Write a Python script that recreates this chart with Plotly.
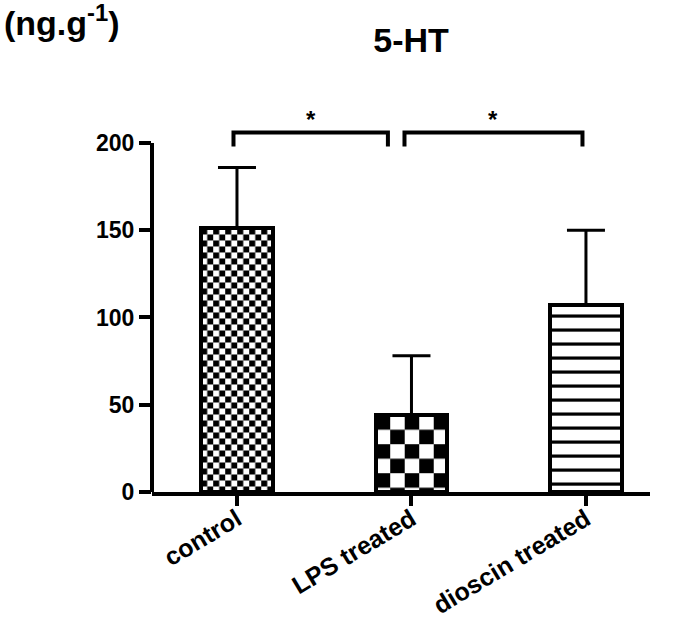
import base64
import plotly.graph_objects as go

# ---- data ----
categories = ["control", "LPS treated", "dioscin treated"]
means = [151, 44, 107]
errors = [35, 34, 43]
y_ticks = [0, 50, 100, 150, 200]
title_text = "5-HT"
y_unit = "(ng.g<sup>-1</sup>)"
sig_pairs = [(0, 1), (1, 2)]
sig_labels = ["*", "*"]

# ---- styling ----
x_pos = list(range(len(categories)))
bar_w = 0.41
y_max = 212
plot_h_px = 370
px_per_unit = plot_h_px / y_max
bar_px = 71.5
fills = ["checker", "checker", "hlines"]
cell_sizes = [6, 14.5, 14]
bracket_insets = [(-0.02, -0.135), (-0.04, -0.02)]
bracket_top = 206
bracket_drop = 8


def checker_svg(w, h, c):
    body = (f"<defs><pattern id='p' width='{2*c}' height='{2*c}' patternUnits='userSpaceOnUse'>"
            f"<rect width='{2*c}' height='{2*c}' fill='white'/>"
            f"<rect width='{c}' height='{c}' fill='black'/>"
            f"<rect x='{c}' y='{c}' width='{c}' height='{c}' fill='black'/>"
            f"</pattern></defs><rect width='{w:.1f}' height='{h:.1f}' fill='url(#p)'/>")
    return wrap_svg(w, h, body)


def hlines_svg(w, h, c):
    body = f"<rect width='{w:.1f}' height='{h:.1f}' fill='white'/>"
    y = h - 9.5
    while y > 4:
        body += f"<rect x='0' y='{y:.1f}' width='{w:.1f}' height='3.2' fill='black'/>"
        y -= c
    return wrap_svg(w, h, body)


def wrap_svg(w, h, body):
    s = (f"<svg xmlns='http://www.w3.org/2000/svg' width='{w:.1f}' height='{h:.1f}' "
         f"viewBox='0 0 {w:.1f} {h:.1f}' preserveAspectRatio='none'>{body}</svg>")
    return "data:image/svg+xml;base64," + base64.b64encode(s.encode()).decode()


fig = go.Figure()

fig.add_trace(go.Bar(
    x=x_pos, y=means, width=bar_w,
    marker=dict(color="rgba(0,0,0,0)", line=dict(color="black", width=4)),
    error_y=dict(type="data", symmetric=False, array=errors, arrayminus=[0]*len(errors),
                 color="black", thickness=3, width=19),
    showlegend=False, hoverinfo="skip",
))

images = []
for i, (f, m, c) in enumerate(zip(fills, means, cell_sizes)):
    maker = checker_svg if f == "checker" else hlines_svg
    images.append(dict(source=maker(bar_px, m * px_per_unit, c),
                       xref="x", yref="y", x=x_pos[i] - bar_w / 2, y=m,
                       sizex=bar_w, sizey=m, xanchor="left", yanchor="top",
                       sizing="stretch", layer="below"))

# significance brackets
annotations = []
for (a, b), lab, (ia, ib) in zip(sig_pairs, sig_labels, bracket_insets):
    xa, xb = x_pos[a] + ia, x_pos[b] + ib
    fig.add_trace(go.Scatter(
        x=[xa, xa, xb, xb], y=[bracket_top - bracket_drop, bracket_top, bracket_top, bracket_top - bracket_drop],
        mode="lines", line=dict(color="black", width=4), showlegend=False, hoverinfo="skip",
        cliponaxis=False))
    annotations.append(dict(x=(xa + xb) / 2, y=bracket_top, xref="x", yref="y", text=lab,
                            showarrow=False, yanchor="bottom", yshift=-3,
                            font=dict(size=24, color="black", family="Liberation Sans")))

annotations.append(dict(x=-150 / 498, y=1.274, xref="paper", yref="paper", text=y_unit,
                        showarrow=False, xanchor="left", yanchor="middle",
                        font=dict(size=34, color="black", family="Liberation Sans")))

fig.update_layout(
    width=675, height=620,
    margin=dict(l=152, r=25, t=122, b=128, autoexpand=False),
    plot_bgcolor="white", paper_bgcolor="white",
    title=dict(text="<b>" + title_text + "</b>", x=411 / 675, xanchor="center",
               y=1 - 40 / 620, yanchor="middle",
               font=dict(size=34, color="black", family="Liberation Sans")),
    font=dict(family="Liberation Sans", color="black"),
    images=images,
    annotations=[dict(a, text=("<b>" + a["text"] + "</b>")) for a in annotations],
    shapes=[dict(type="line", xref="x domain", yref="y", x0=0, x1=0, y0=0, y1=y_ticks[-1],
                 line=dict(color="black", width=4))],
    bargap=0,
)

fig.update_xaxes(
    range=[-0.487, 2.367], tickvals=x_pos,
    ticktext=["<b>" + c + "</b>" for c in categories],
    tickangle=-31, ticks="outside", ticklen=10, tickwidth=4, tickcolor="black",
    ticklabelstandoff=-11,
    showline=True, linecolor="black", linewidth=4, showgrid=False, zeroline=False,
    tickfont=dict(size=25, color="black", family="Liberation Sans"), automargin=False,
)
fig.update_yaxes(
    range=[0, y_max], tickvals=y_ticks, ticktext=["<b>" + str(t) + "</b>" for t in y_ticks],
    ticks="outside", ticklen=12, tickwidth=4, tickcolor="black",
    showline=False, showgrid=False, zeroline=False,
    tickfont=dict(size=23, color="black", family="Liberation Sans"), automargin=False,
)

fig.write_html("out.html", config={"displayModeBar": False},
               post_script="document.body.style.margin='0';document.body.style.overflow='hidden';")
